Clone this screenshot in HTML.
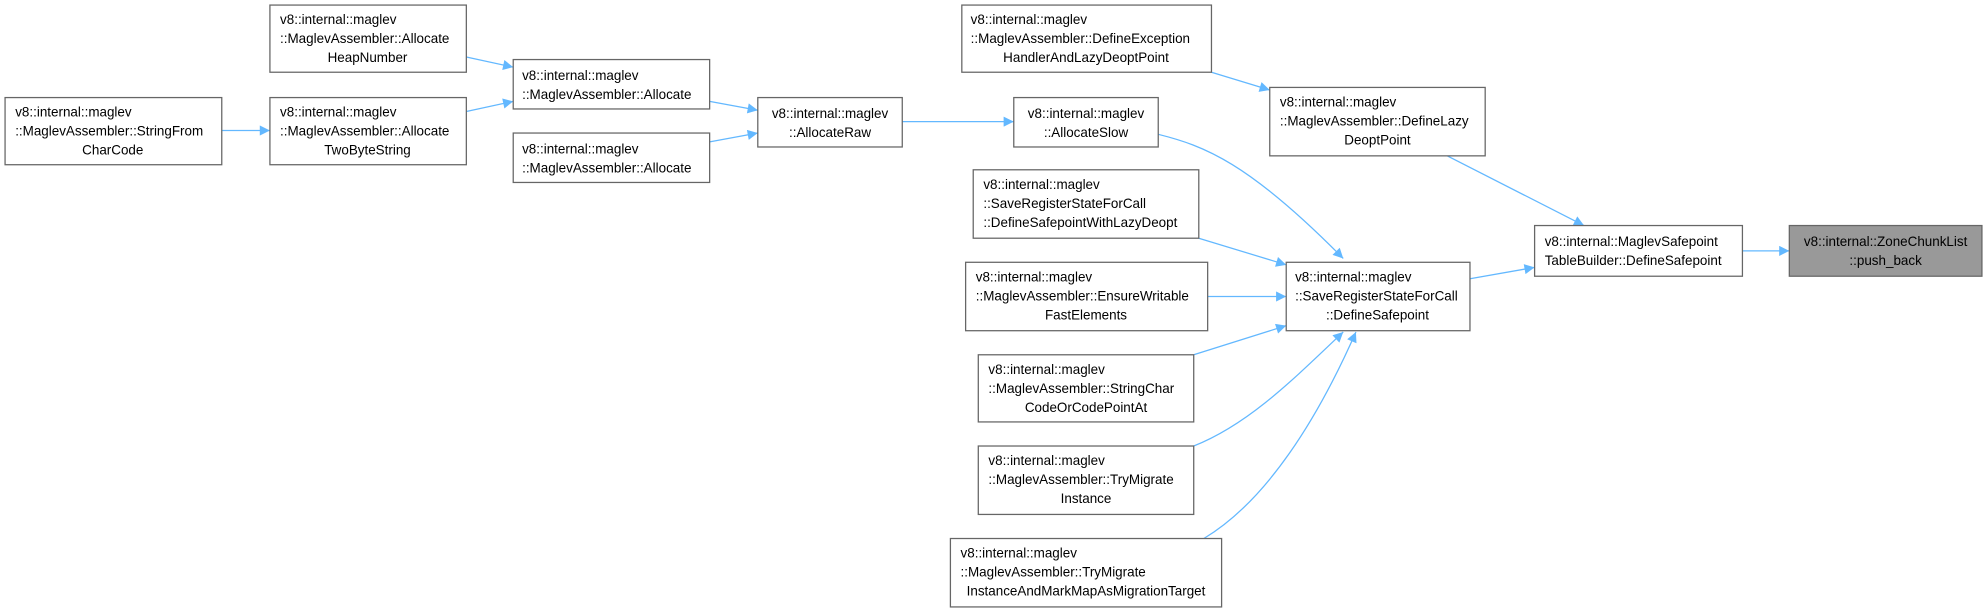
<!DOCTYPE html>
<html><head><meta charset="utf-8"><style>
html,body{margin:0;padding:0;background:#fff;}
svg{display:block;}
text{font-family:"Liberation Sans","DejaVu Sans",sans-serif;font-size:10.6px;fill:#000;}
.b{fill:#fff;stroke:#666;stroke-width:1;}
.e{stroke:#63b8ff;stroke-width:1;fill:none;marker-end:url(#a);}
</style></head><body>
<svg width="1987" height="612" viewBox="0 0 1568 483" preserveAspectRatio="none">
<defs><marker id="a" viewBox="0 0 10 10" refX="10" refY="5" markerWidth="10" markerHeight="8" markerUnits="userSpaceOnUse" orient="auto"><path d="M0,0 L10,5 L0,10 z" fill="#63b8ff"/></marker></defs>
<path class="e" d="M175,103 L213,103"/>
<path class="e" d="M368,45 L405,53"/>
<path class="e" d="M368,88 L405,80"/>
<path class="e" d="M560,80 L598,87"/>
<path class="e" d="M560,112 L598,105"/>
<path class="e" d="M712,96 L800,96"/>
<path class="e" d="M914,106 C950,115 985,128 1060,204"/>
<path class="e" d="M956,57 L1002,71"/>
<path class="e" d="M946,188 L1015,209"/>
<path class="e" d="M953,234 L1015,234"/>
<path class="e" d="M942,280 L1015,257"/>
<path class="e" d="M942,352 C985,335 1020,300 1060,262"/>
<path class="e" d="M950,425 C1000,395 1040,330 1070,262"/>
<path class="e" d="M1142,123 L1250,178"/>
<path class="e" d="M1160,220 L1211,211"/>
<path class="e" d="M1375,198 L1412,198"/>

<rect class="b" x="4" y="77" width="171" height="53"/>
<text x="12" y="92">v8::internal::maglev</text><text x="12" y="107">::MaglevAssembler::StringFrom</text><text x="89" y="122" text-anchor="middle">CharCode</text>

<rect class="b" x="213" y="4" width="155" height="53"/>
<text x="221" y="19">v8::internal::maglev</text><text x="221" y="34">::MaglevAssembler::Allocate</text><text x="290" y="49" text-anchor="middle">HeapNumber</text>

<rect class="b" x="213" y="77" width="155" height="53"/>
<text x="221" y="92">v8::internal::maglev</text><text x="221" y="107">::MaglevAssembler::Allocate</text><text x="290" y="122" text-anchor="middle">TwoByteString</text>

<rect class="b" x="405" y="47" width="155" height="39"/>
<text x="412" y="63">v8::internal::maglev</text><text x="412" y="78">::MaglevAssembler::Allocate</text>

<rect class="b" x="405" y="105" width="155" height="39"/>
<text x="412" y="121">v8::internal::maglev</text><text x="412" y="136">::MaglevAssembler::Allocate</text>

<rect class="b" x="598" y="77" width="114" height="39"/>
<text x="655" y="93" text-anchor="middle">v8::internal::maglev</text><text x="655" y="108" text-anchor="middle">::AllocateRaw</text>

<rect class="b" x="800" y="77" width="114" height="39"/>
<text x="857" y="93" text-anchor="middle">v8::internal::maglev</text><text x="857" y="108" text-anchor="middle">::AllocateSlow</text>

<rect class="b" x="759" y="4" width="197" height="53"/>
<text x="766" y="19">v8::internal::maglev</text><text x="766" y="34">::MaglevAssembler::DefineException</text><text x="857" y="49" text-anchor="middle">HandlerAndLazyDeoptPoint</text>

<rect class="b" x="768" y="134" width="178" height="54"/>
<text x="776" y="149">v8::internal::maglev</text><text x="776" y="164">::SaveRegisterStateForCall</text><text x="776" y="179">::DefineSafepointWithLazyDeopt</text>

<rect class="b" x="762" y="207" width="191" height="54"/>
<text x="770" y="222">v8::internal::maglev</text><text x="770" y="237">::MaglevAssembler::EnsureWritable</text><text x="857" y="252" text-anchor="middle">FastElements</text>

<rect class="b" x="772" y="280" width="170" height="53"/>
<text x="780" y="295">v8::internal::maglev</text><text x="780" y="310">::MaglevAssembler::StringChar</text><text x="857" y="325" text-anchor="middle">CodeOrCodePointAt</text>

<rect class="b" x="772" y="352" width="170" height="54"/>
<text x="780" y="367">v8::internal::maglev</text><text x="780" y="382">::MaglevAssembler::TryMigrate</text><text x="857" y="397" text-anchor="middle">Instance</text>

<rect class="b" x="750" y="425" width="214" height="54"/>
<text x="758" y="440">v8::internal::maglev</text><text x="758" y="455">::MaglevAssembler::TryMigrate</text><text x="857" y="470" text-anchor="middle">InstanceAndMarkMapAsMigrationTarget</text>

<rect class="b" x="1015" y="207" width="145" height="54"/>
<text x="1022" y="222">v8::internal::maglev</text><text x="1022" y="237">::SaveRegisterStateForCall</text><text x="1087" y="252" text-anchor="middle">::DefineSafepoint</text>

<rect class="b" x="1002" y="69" width="170" height="54"/>
<text x="1010" y="84">v8::internal::maglev</text><text x="1010" y="99">::MaglevAssembler::DefineLazy</text><text x="1087" y="114" text-anchor="middle">DeoptPoint</text>

<rect class="b" x="1211" y="178" width="164" height="40"/>
<text x="1219" y="194">v8::internal::MaglevSafepoint</text><text x="1219" y="209">TableBuilder::DefineSafepoint</text>

<rect x="1412" y="178" width="152" height="40" fill="#999" stroke="#666"/>
<text x="1488" y="194" text-anchor="middle">v8::internal::ZoneChunkList</text><text x="1488" y="209" text-anchor="middle">::push_back</text>
</svg>
</body></html>
